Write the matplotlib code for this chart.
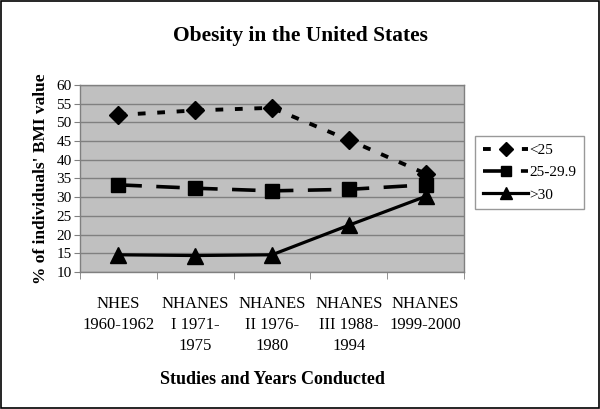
import matplotlib
matplotlib.use("Agg")
import matplotlib.pyplot as plt
from matplotlib.ticker import FixedLocator, MultipleLocator

categories = ["NHES\n1960-1962", "NHANES\nI 1971-\n1975", "NHANES\nII 1976-\n1980",
              "NHANES\nIII 1988-\n1994", "NHANES\n1999-2000"]
under25 = [52.0, 53.2, 53.9, 45.3, 36.3]
bmi25_29 = [33.3, 32.4, 31.7, 32.1, 33.3]
over30 = [14.6, 14.4, 14.6, 22.5, 30.2]
series_labels = ["<25", "25-29.9", ">30"]

plt.rcParams['font.family'] = ['Liberation Serif', 'DejaVu Serif']

fig = plt.figure(figsize=(6.0, 4.09), dpi=100)
fig.patch.set_facecolor('white')
# figure border
fig.add_artist(plt.Rectangle((0.002, 0.003), 0.996, 0.994, transform=fig.transFigure,
                             fill=False, edgecolor='black', linewidth=1.2))

ax = fig.add_axes([80/600, 1 - 272/409, 384/600, 187/409])
ax.set_facecolor('#c0c0c0')
x = list(range(len(categories)))

ax.plot(x, under25, color='black', linewidth=2.8, linestyle=(0, (2, 3)),
        marker='D', markersize=9.5, label=series_labels[0], dash_capstyle='butt')
ax.plot(x, bmi25_29, color='black', linewidth=2.6, linestyle=(0, (6.5, 4)),
        marker='s', markersize=10, label=series_labels[1], dash_capstyle='butt')
ax.plot(x, over30, color='black', linewidth=2.3, linestyle='-',
        marker='^', markersize=11.5, label=series_labels[2])

ax.set_xlim(-0.5, len(categories) - 0.5)
ax.set_ylim(10, 60)
ax.yaxis.set_major_locator(MultipleLocator(5))
ax.grid(axis='y', color='#808080', linewidth=1)
ax.set_axisbelow(True)
for s in ax.spines.values():
    s.set_color('#808080')
    s.set_linewidth(1)

ax.set_xticks(x)
ax.set_xticklabels(categories, fontsize=12, linespacing=1.45)
ax.xaxis.set_minor_locator(FixedLocator([i - 0.5 for i in range(len(categories) + 1)]))
ax.tick_params(axis='x', which='major', length=0, pad=17)
ax.tick_params(axis='x', which='minor', length=5, color='#808080', direction='out')
ax.tick_params(axis='y', length=4, color='#808080', labelsize=11, pad=2)

ax.set_ylabel("% of individuals' BMI value", fontsize=12.5, fontweight='bold', labelpad=5)
fig.text(0.5 * (80 + 464) / 600, 1 - 379/409, "Studies and Years Conducted",
         ha='center', va='center', fontsize=13, fontweight='bold')
fig.text(0.5, 1 - 36/409, "Obesity in the United States",
         ha='center', va='center', fontsize=15.5, fontweight='bold')

leg = ax.legend(loc='upper left', bbox_to_anchor=(475/600, 1 - 136/409),
                bbox_transform=fig.transFigure, frameon=True, fancybox=False,
                edgecolor='#808080', fontsize=11, handlelength=3.0, handletextpad=0.05,
                labelspacing=0.55, borderpad=0.5, borderaxespad=0, markerscale=0.75)
leg.get_frame().set_linewidth(1)

fig.savefig("out.png", dpi=100, facecolor='white')
